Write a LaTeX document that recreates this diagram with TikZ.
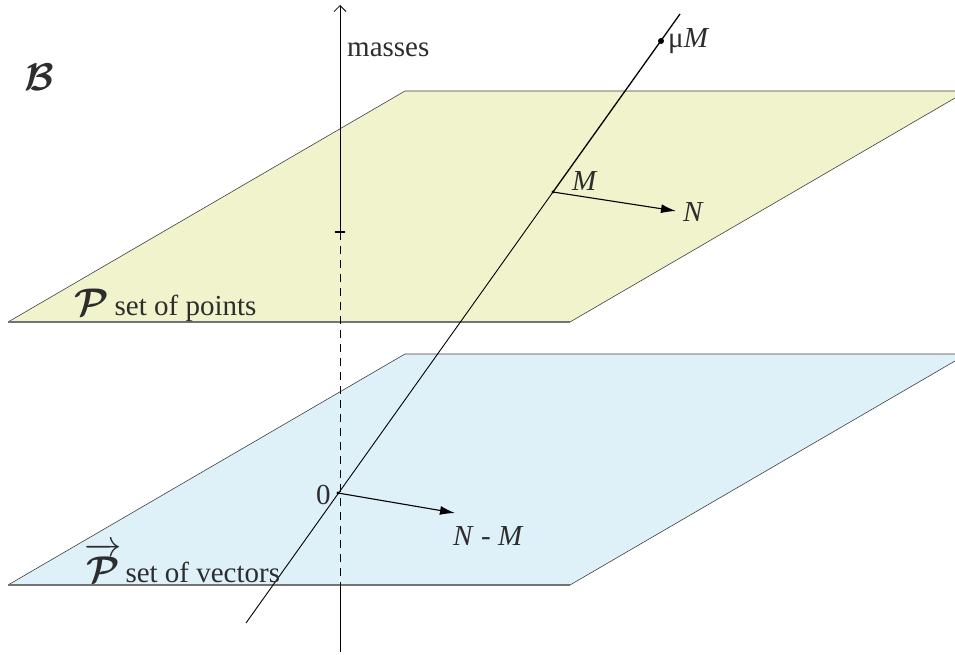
\documentclass[tikz,border=0pt]{standalone}
\usepackage{fontspec}
\setmainfont{Liberation Serif}
\usepackage{amsmath}
\usepackage{graphicx}
\usetikzlibrary{arrows.meta}
\definecolor{pointsplane}{RGB}{240,243,204}
\definecolor{vectorsplane}{RGB}{222,240,248}
\definecolor{labelgray}{RGB}{45,45,45}
\newcommand{\bigcal}[1]{\scalebox{1.55}{$\boldsymbol{\mathcal{#1}}$}}
\newcommand{\bigvec}[1]{\scalebox{1.5}{$\overrightarrow{\boldsymbol{\mathcal{#1}}}$}}

\begin{document}
\begin{tikzpicture}[x=1pt, y=-1pt, font=\fontsize{29}{34}\selectfont,
  planeedge/.style={line width=0.6pt, draw=black!75},
  planefront/.style={line width=1.3pt, draw=black!55},
  vecarrow/.style={line width=1.1pt, -{Latex[length=15pt, width=9pt]}},
  lbl/.style={text=labelgray, inner sep=0pt, anchor=base west}]
  \useasboundingbox (0,0) rectangle (955,655);

  \begin{scope}
    \clip (0,0) rectangle (955,655);
    \foreach \dy/\col in {0/pointsplane, 263/vectorsplane} {
      \fill[\col] (8,322+\dy) -- (570,322+\dy) -- (967,91+\dy) -- (405,91+\dy) -- cycle;
      \draw[planeedge] (8,322+\dy) -- (405,91+\dy) -- (967,91+\dy);
      \draw[planeedge] (570,322+\dy) -- (967,91+\dy);
      \draw[planefront] (8,322+\dy) -- (570,322+\dy);
    }
  \end{scope}

  \coordinate (axisbottom) at (340,652);
  \coordinate (axistop) at (340,5);
  \coordinate (tick) at (340,232);
  \coordinate (hidden) at (340,586);
  \draw[line width=0.8pt, -{Straight Barb[length=6pt, width=12pt]}] (tick) -- (axistop);
  \draw[line width=0.8pt, dash pattern=on 8pt off 6pt] (tick) -- (hidden);
  \draw[line width=0.8pt] (hidden) -- (axisbottom);
  \draw[line width=2pt] ([xshift=-5pt]tick) -- ([xshift=5pt]tick);

  \coordinate (O) at (338,493);
  \coordinate (M) at (553,192);
  \coordinate (muM) at (661,41);
  \coordinate (linetop) at (680,14);
  \coordinate (linebottom) at (246,623);
  \coordinate (N) at (676,211);
  \coordinate (NM) at (455,513);
  \draw[line width=0.9pt] (linebottom) -- (M);
  \draw[line width=1.3pt] (M) -- (linetop);
  \fill (muM) circle (3pt);
  \fill (M) circle (1.6pt);
  \fill (O) circle (1.6pt);

  \draw[vecarrow] (M) -- (N);
  \draw[vecarrow] (O) -- (NM);

  \node[lbl] (masses) at (347,57) {masses};
  \node[lbl] (mulabel) at (668,48) {μ\textit{M}};
  \node[lbl] (Mlabel) at (572,190) {\textit{M}};
  \node[lbl] (Nlabel) at (683,221) {\textit{N}};
  \node[lbl] (Olabel) at (316,504) {0};
  \node[lbl] (NMlabel) at (453,545) {\textit{N} - \textit{M}};
  \node[lbl] (Blabel) at (24,91) {\bigcal{B}};
  \node[lbl] (points) at (74,315) {\bigcal{P}\hspace{6pt}set of points};
  \node[lbl] (vectors) at (84,582) {\bigvec{P}\hspace{4pt}set of vectors};
\end{tikzpicture}
\end{document}
